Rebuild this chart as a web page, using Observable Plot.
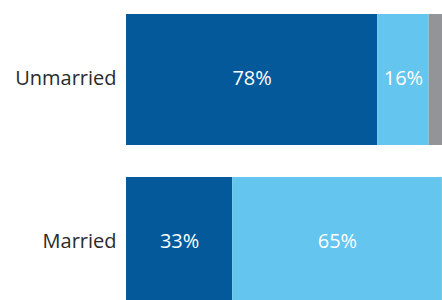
<!DOCTYPE html>
<html>
<head>
<meta charset="utf-8">
<script src="https://cdn.jsdelivr.net/npm/d3@7"></script>
<script src="https://cdn.jsdelivr.net/npm/@observablehq/plot@0.6"></script>
<style>
html,body{margin:0;padding:0;background:#fff;overflow:hidden;width:442px;height:300px;}
#chart{width:442px;height:300px;overflow:hidden;}
</style>
</head>
<body>
<div id="chart"></div>
<script>
const categories = ["Unmarried", "Married"];
const seriesNames = ["Primary", "Secondary", "Other"];
const unmarriedValues = [78, 16, 6];
const marriedValues = [33, 65, 2];
const colors = ["#03599a", "#64c5ee", "#929497"];

const data = [];
[unmarriedValues, marriedValues].forEach((vals, i) => {
  vals.forEach((v, j) => data.push({cat: categories[i], series: seriesNames[j], value: v}));
});

const chart = Plot.plot({
  width: 442,
  height: 300,
  marginLeft: 126,
  marginRight: -6,
  marginTop: 14,
  marginBottom: -8,
  style: {fontFamily: "'Open Sans', sans-serif", background: "#fff"},
  x: {axis: null, domain: [0, 100]},
  y: {domain: categories, paddingInner: 32/163, paddingOuter: 0, label: null, axis: null},
  color: {domain: seriesNames, range: colors},
  marks: [
    Plot.barX(data, {x: "value", y: "cat", fill: "series", z: "series", order: seriesNames}),
    Plot.text(data, Plot.stackX({x: "value", y: "cat", z: "series", order: seriesNames,
      text: d => d.series === "Other" ? null : d.value + "%",
      fill: "white", fontSize: 20, dy: -1})),
    Plot.axisY({tickSize: 0, tickPadding: 10, fontSize: 20, color: "#2a2a2a", label: null, dy: -1})
  ]
});
document.getElementById("chart").appendChild(chart);
</script>
</body>
</html>
